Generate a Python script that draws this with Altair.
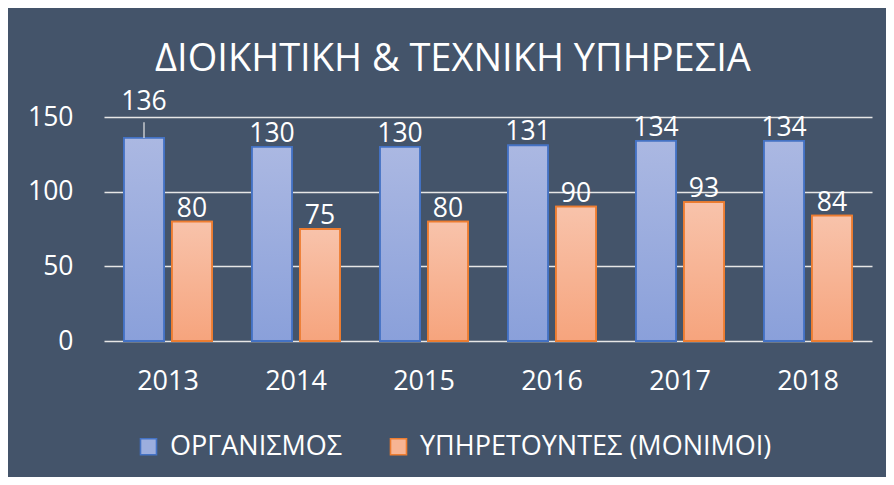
import altair as alt
import pandas as pd

years = ["2013", "2014", "2015", "2016", "2017", "2018"]
organismos = [136, 130, 130, 131, 134, 134]
ypiretountes = [80, 75, 80, 90, 93, 84]
series_names = ["ΟΡΓΑΝΙΣΜΟΣ", "ΥΠΗΡΕΤΟΥΝΤΕΣ (ΜΟΝΙΜΟΙ)"]
title_text = "ΔΙΟΙΚΗΤΙΚΗ & ΤΕΧΝΙΚΗ ΥΠΗΡΕΣΙΑ"

rows = []
for i, y in enumerate(years):
    rows.append({"year": y, "series": series_names[0], "value": organismos[i]})
    rows.append({"year": y, "series": series_names[1], "value": ypiretountes[i]})
df = pd.DataFrame(rows)

BG = "#44546A"
FONT = "Open Sans"
A, B = series_names

grad_blue = {"gradient": "linear", "x1": 0, "y1": 0, "x2": 0, "y2": 1,
             "stops": [{"offset": 0, "color": "#ABB8E2"}, {"offset": 1, "color": "#8AA0DA"}]}
grad_orange = {"gradient": "linear", "x1": 0, "y1": 0, "x2": 0, "y2": 1,
               "stops": [{"offset": 0, "color": "#F8C3AB"}, {"offset": 1, "color": "#F6A47D"}]}

x_enc = alt.X("year:N", sort=years, title=None,
              scale=alt.Scale(paddingInner=0, paddingOuter=0),
              axis=alt.Axis(labelFont=FONT, labelFontSize=27, labelColor="white",
                            labelAngle=0, domain=False, ticks=False, labelPadding=27,
                            grid=False))
xoff = alt.XOffset("series:N", sort=series_names,
                   scale=alt.Scale(paddingInner=1/6, paddingOuter=0.4167))
y_enc = alt.Y("value:Q", title=None,
              scale=alt.Scale(domain=[0, 150], nice=False),
              axis=alt.Axis(values=[0, 50, 100, 150], labelFont=FONT, labelFontSize=26.5,
                            labelColor="white", domain=False, ticks=False,
                            labelPadding=31, gridColor="#E6E6E6", gridWidth=1.6))

base = alt.Chart(df)

legend_bars = base.mark_bar(strokeWidth=1.8).encode(
    x=x_enc, xOffset=xoff, y=y_enc,
    fill=alt.Fill("series:N", sort=series_names, title=None,
                  scale=alt.Scale(domain=series_names, range=["#9CAEDE", "#F7B493"]),
                  legend=alt.Legend(orient="none", legendX=31, legendY=316,
                                    direction="horizontal", symbolType="square",
                                    symbolSize=256, symbolStrokeWidth=1.6,
                                    labelFont=FONT, labelFontSize=27, labelColor="white",
                                    labelOffset=8, columnPadding=42, padding=0,
                                    labelLimit=600)),
    stroke=alt.Stroke("series:N", sort=series_names, title=None,
                      scale=alt.Scale(domain=series_names, range=["#4472C4", "#ED7D31"])),
)

grad_bars = base.mark_bar(strokeWidth=1.8).encode(
    x=x_enc, xOffset=xoff, y=y_enc,
    fill=alt.condition(alt.datum.series == A, alt.value(grad_blue), alt.value(grad_orange)),
    stroke=alt.condition(alt.datum.series == A, alt.value("#4472C4"), alt.value("#ED7D31")),
)

is_special = (alt.datum.year == "2013") & (alt.datum.series == A)

labels = base.mark_text(font=FONT, fontSize=26.5, color="white", baseline="alphabetic",
                        dy=-5).encode(
    x=x_enc, xOffset=xoff, y=y_enc, text=alt.Text("value:Q"),
).transform_filter(~is_special)

special_label = base.mark_text(font=FONT, fontSize=26.5, color="white", baseline="alphabetic",
                               dy=-28).encode(
    x=x_enc, xOffset=xoff, y=y_enc, text=alt.Text("value:Q"),
).transform_filter(is_special)

leader = base.mark_rule(color="#E6E6E6", strokeWidth=1.2).encode(
    x=x_enc, xOffset=xoff, y=y_enc, y2="top:Q",
).transform_filter(is_special).transform_calculate(top="datum.value + 10.5")

chart = alt.layer(legend_bars, grad_bars, leader, labels, special_label).properties(
    width=768, height=224,
    title=alt.TitleParams(title_text, font=FONT, fontSize=38, fontWeight="normal",
                          color="white", anchor="middle", dx=-35, offset=10),
    background=BG,
    autosize=alt.AutoSizeParams(type="none"),
    padding={"left": 96, "top": 109, "right": 14, "bottom": 136},
).configure_view(stroke=None).configure_axis(gridOpacity=1)

chart.save("out.html", embed_options={"renderer": "svg", "actions": False})
